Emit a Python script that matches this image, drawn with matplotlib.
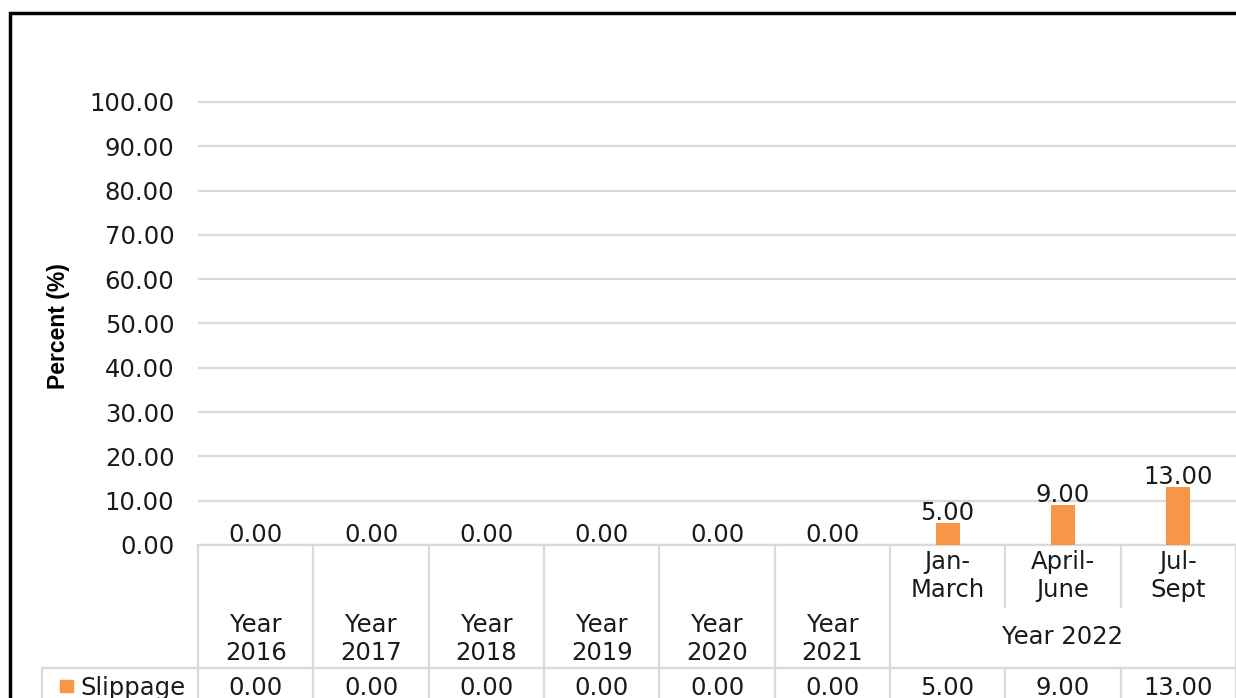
import matplotlib
matplotlib.use('Agg')
from matplotlib import pyplot as plt
from matplotlib import transforms
from matplotlib.patches import Rectangle
import numpy as np

# data
periods = ['Year\n2016', 'Year\n2017', 'Year\n2018', 'Year\n2019', 'Year\n2020',
           'Year\n2021', 'Jan-\nMarch', 'April-\nJune', 'Jul-\nSept']
group_label = 'Year 2022'
series_name = 'Slippage'
slippage = [0.00, 0.00, 0.00, 0.00, 0.00, 0.00, 5.00, 9.00, 13.00]
y_ticks = [0, 10, 20, 30, 40, 50, 60, 70, 80, 90, 100]

W, H = 1236, 698
ORANGE = '#F79646'
GRID = '#D9D9D9'
FS = 17.5

plt.rcParams['font.family'] = ['DejaVu Sans']

def fy(py):
    return 1 - py / H

def fx(px):
    return px / W

fig = plt.figure(figsize=(W / 100, H / 100), dpi=100)
# ylim goes a hair above 100 so the top gridline is not clipped
ax = fig.add_axes([fx(198), fy(545), 1 - fx(198), fy(100.2) - fy(545)])

x = np.arange(len(slippage))
ax.bar(x, slippage, width=0.21, color=ORANGE, zorder=3)
for xi, v in zip(x, slippage):
    ax.annotate(f'{v:.2f}', (xi, v), xytext=(0, -1.5), textcoords='offset points',
                ha='center', va='bottom', fontsize=FS, color='#1a1a1a', zorder=4)

ax.set_xlim(-0.5, len(slippage) - 0.5)
ax.set_ylim(0, 100.4)
ax.set_yticks(y_ticks)
ax.set_yticklabels([f'{t:.2f}' for t in y_ticks], fontsize=FS, color='#1a1a1a')
ax.tick_params(axis='y', length=0, pad=17)
ax.set_xticks([])
ax.grid(axis='y', color=GRID, linewidth=1.6, zorder=0)
for s in ['top', 'right', 'left']:
    ax.spines[s].set_visible(False)
ax.spines['bottom'].set_color(GRID)
ax.spines['bottom'].set_linewidth(1.6)

fig.text(fx(59), fy(326), 'Percent (%)', rotation=90, ha='center', va='center',
         fontsize=16.5, fontweight='bold', family=['Liberation Sans'])

# data table below the axis
tr = transforms.blended_transform_factory(ax.transData, fig.transFigure)
lkw = dict(color=GRID, linewidth=1.6, clip_on=False, transform=tr)
edges = np.arange(len(slippage) + 1) - 0.5
for i, e in enumerate(edges):
    if i <= 6 or i == len(edges) - 1:
        ax.plot([e, e], [fy(545), fy(H + 5)], **lkw)
    else:
        ax.plot([e, e], [fy(545), fy(607)], **lkw)
        ax.plot([e, e], [fy(668), fy(H + 5)], **lkw)
fig.add_artist(plt.Line2D([fx(42), 1.0], [fy(668), fy(668)], color=GRID, linewidth=1.6))
fig.add_artist(plt.Line2D([fx(42), fx(42)], [fy(668), fy(H + 5)], color=GRID, linewidth=1.6))

for xi, lab in enumerate(periods):
    yy = fy(639) if xi < 6 else fy(576)
    ax.text(xi, yy, lab, transform=tr, ha='center', va='center', fontsize=FS,
            color='#1a1a1a', linespacing=1.2)
ax.text(7, fy(637), group_label, transform=tr, ha='center', va='center', fontsize=FS,
        color='#1a1a1a')
for xi, v in enumerate(slippage):
    ax.text(xi, fy(688), f'{v:.2f}', transform=tr, ha='center', va='center', fontsize=FS,
            color='#1a1a1a')
fig.add_artist(Rectangle((fx(60), fy(692)), fx(13), fy(680) - fy(692), color=ORANGE))
fig.text(fx(80), fy(688), series_name, ha='left', va='center', fontsize=FS, color='#1a1a1a')

# outer chart frame
fig.add_artist(Rectangle((fx(10), -0.1), 1.2, fy(13) + 0.1, fill=False,
                         edgecolor='black', linewidth=2.5))

fig.savefig('out.png', dpi=100)
